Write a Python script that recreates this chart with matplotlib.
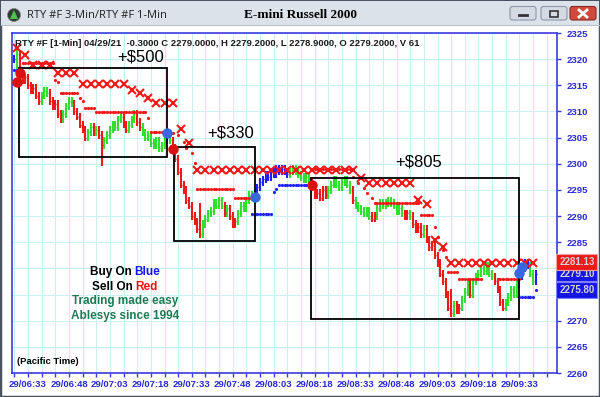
import matplotlib
matplotlib.use("Agg")
import matplotlib.pyplot as plt
import matplotlib.patches as mpatches
from matplotlib.transforms import blended_transform_factory, offset_copy

plt.rcParams["font.family"] = ["Liberation Sans", "DejaVu Sans"]

# ---- 1-min bars (minute 0 = 06:33), closes ----
FIRST_MIN = -5
closes = [
    2320.0, 2321.0, 2317.0, 2316.0, 2316.5, 2315.0, 2314.0, 2314.5, 2313.0, 2312.0,
    2313.0, 2314.0, 2313.5, 2312.0, 2311.0, 2311.5, 2309.5, 2308.5, 2309.5, 2311.0,
    2312.0, 2311.5, 2310.0, 2309.0, 2307.5, 2306.5, 2305.0, 2306.0, 2307.0, 2306.0,
    2306.5, 2305.5, 2303.5, 2304.5, 2305.5, 2306.5, 2307.5, 2307.0, 2308.5, 2309.0,
    2307.5, 2306.5, 2307.5, 2308.5, 2309.5, 2308.0, 2307.0, 2306.0, 2305.0, 2305.5,
    2304.0, 2303.5, 2304.5, 2303.0, 2303.5, 2304.5, 2305.5, 2304.5, 2303.0, 2301.0,
    2298.5, 2296.0, 2295.0, 2293.0, 2292.0, 2290.0, 2289.0, 2287.5, 2286.5, 2288.5,
    2289.5, 2290.5, 2291.0, 2292.5, 2292.0, 2293.0, 2292.0, 2290.5, 2291.5, 2290.0,
    2288.5, 2289.0, 2290.5, 2292.0, 2291.5, 2293.0, 2294.0, 2293.5, 2294.5, 2295.5,
    2296.5, 2297.0, 2298.0, 2297.5, 2298.5, 2298.0, 2299.0, 2298.5, 2299.0, 2298.5,
    2298.0, 2298.5, 2299.0, 2298.5, 2298.0, 2297.5, 2297.0, 2297.5, 2296.5, 2295.5,
    2294.0, 2294.5, 2293.5, 2295.0, 2294.0, 2295.0, 2296.0, 2297.0, 2296.0, 2295.5,
    2296.5, 2297.0, 2296.0, 2295.0, 2293.0, 2292.0, 2291.5, 2291.0, 2290.5, 2291.0,
    2290.0, 2289.5, 2290.0, 2291.5, 2292.5, 2292.0, 2292.5, 2293.0, 2292.5, 2292.0,
    2291.0, 2291.5, 2290.5, 2290.0, 2290.5, 2290.0, 2288.5, 2287.5, 2288.0, 2286.5,
    2287.5, 2285.5, 2284.0, 2284.5, 2282.5, 2281.0, 2279.0, 2277.5, 2275.0, 2272.5,
    2271.5, 2273.0, 2272.0, 2272.5, 2274.0, 2275.5, 2277.0, 2275.0, 2277.5, 2278.5,
    2279.0, 2280.0, 2279.5, 2280.5, 2279.0, 2278.5, 2277.5, 2276.0, 2273.5, 2272.5,
    2273.5, 2274.5, 2276.0, 2275.0, 2277.0, 2278.5, 2280.0, 2281.0, 2280.5, 2279.0,
    2277.5, 2279.0,
]
bar_colors = (
    "bgrrrrrrrr" "gggrrrrrgg" "ggrrrrrggr" "grrggggggg" "rrgggrrggg"
    "ggggggbgrr" "rrrrrrrrrg" "gggggggrgr" "rrggggggbb" "bbbbbbbbbb"
    "bggggggggr" "rrrrrggggg" "ggggrggggg" "grrggggggg" "gggrrgrrrr"
    "grrrrrrrrr" "rgrrgggrgg" "ggggggrrrr" "gggggbbbbg" "gb"
)
spike_min = [-4, -3, 27, 63, 155]
spike_low = [2318.0, 2315.5, 2299.5, 2285.8, 2270.7]
spike_high = [2322.5, 2321.5, 2306.0, 2292.5, 2276.0]

# ---- 3-min stop (red X) ----
xstop_min = [-4, -1, 2, 5, 8, 11, 14, 17, 20, 23, 26, 29, 32, 35, 38, 41, 44, 47, 50, 53,
             56, 59, 62, 65, 68, 71, 74, 77, 80, 83, 86, 89, 92, 95, 98, 101, 104, 107,
             110, 113, 116, 119, 122, 125, 128, 131, 134, 137, 140, 143, 146, 149, 152,
             155, 158, 161, 164, 167, 170, 173, 176, 179, 182, 185]
xstop_val = [2322.1, 2320.8, 2318.9, 2318.9, 2318.9, 2317.4, 2317.4, 2317.4,
             2315.3, 2315.3, 2315.3, 2315.3, 2315.3, 2315.3,
             2314.1, 2313.5, 2312.6, 2311.6, 2311.6, 2311.6, 2306.6, 2304.0,
             2298.8, 2298.8, 2298.8, 2298.8, 2298.8, 2298.8, 2298.8, 2298.8, 2298.8, 2298.8,
             2298.8, 2298.8, 2298.8, 2298.8, 2298.8, 2298.8, 2298.8, 2298.8, 2298.8, 2298.8,
             2297.3, 2296.3, 2296.3, 2296.3, 2296.3, 2296.3, 2296.3,
             2293.1, 2292.3, 2285.4, 2284.0,
             2281.0, 2281.0, 2281.0, 2281.0, 2281.0, 2281.0, 2281.0, 2281.0, 2281.0, 2281.0, 2281.0]

# ---- 1-min trailing stops (dots): start minute, end minute, level ----
red_dot_start = [-2, 10, 11, 12, 19, 20, 21, 25, 44, 45, 53, 55, 57, 58, 60, 61, 62, 76,
                 105, 119, 121, 123, 124, 126, 127, 144, 149, 150, 152, 153, 154, 158, 172]
red_dot_end = [9, 10, 11, 18, 19, 20, 24, 43, 44, 51, 53, 55, 57, 58, 60, 61, 75, 81,
               118, 119, 121, 123, 124, 126, 143, 148, 149, 150, 152, 153, 157, 166, 180]
red_dot_level = [2319.2, 2316.0, 2315.6, 2313.5, 2312.6, 2312.0, 2310.7, 2309.9, 2308.7,
                 2306.0, 2305.9, 2305.5, 2304.2, 2303.0, 2302.0, 2300.1, 2295.2, 2293.5,
                 2299.0, 2297.5, 2296.3, 2295.4, 2294.4, 2293.5, 2292.5, 2290.2, 2288.0,
                 2286.0, 2283.5, 2282.2, 2279.3, 2278.0, 2278.0]
blue_dot_start = [-5, 82, 90, 91, 92, 180, 186]
blue_dot_end = [-4, 89, 90, 91, 102, 185, 186]
blue_dot_level = [2318.0, 2290.4, 2294.6, 2295.2, 2296.0, 2274.5, 2275.9]

# ---- signals ----
sig_min = [-4, -3, 51, 53, 83, 104, 180, 181]
sig_val = [2315.6, 2317.3, 2305.9, 2302.8, 2293.6, 2296.0, 2279.1, 2280.3]
sig_kind = ["sell", "sell", "buy", "sell", "buy", "sell", "buy", "buy"]

# ---- trade boxes ----
box_x0 = [-3.3, 53.5, 103.7]
box_x1 = [50.9, 83.2, 180.0]
box_lo = [2301.3, 2285.2, 2270.3]
box_hi = [2318.3, 2303.2, 2297.3]
profit_text = ["+$500", "+$330", "+$805"]
profit_min = [41.4, 74.4, 143.2]
profit_val = [2320.4, 2305.9, 2300.3]

# ---- axes ----
x_tick_min = [0, 15, 30, 45, 60, 75, 90, 105, 120, 135, 150, 165, 180]
x_tick_lbl = ["29/06:33", "29/06:48", "29/07:03", "29/07:18", "29/07:33", "29/07:48",
              "29/08:03", "29/08:18", "29/08:33", "29/08:48", "29/09:03", "29/09:18",
              "29/09:33"]
y_ticks = [2260, 2265, 2270, 2275, 2280, 2285, 2290, 2295, 2300, 2305, 2310, 2315, 2320, 2325]
y_tick_lbl = ["2260", "2265", "2270", "", "", "2285", "2290", "2295", "2300", "2305",
              "2310", "2315", "2320", "2325"]
last_labels = ["2279.10", "2281.13", "2275.80"]
last_values = [2279.0, 2281.2, 2275.9]
last_colors = ["#1515e8", "#ee1a1a", "#1515e8"]

RED = "#f01818"
GREEN = "#2ee02e"
BLUE = "#2020ff"
AXBLUE = "#3b3be0"
BAR_COLOR = {"r": RED, "g": GREEN, "b": BLUE}

fig = plt.figure(figsize=(6, 3.97), dpi=100)

# window chrome in pixel coordinates
bg = fig.add_axes([0, 0, 1, 1])
bg.set_xlim(0, 600)
bg.set_ylim(397, 0)
bg.axis("off")
bg.add_patch(mpatches.Rectangle((0, 0), 600, 397, fc="white", ec="#4a5461", lw=2.5))
bg.add_patch(mpatches.Rectangle((1, 1), 598, 24, fc="#dbe2ea", ec="none"))
bg.plot([1, 599], [25, 25], color="#b9c3cf", lw=0.8)
bg.add_patch(mpatches.Circle((14, 15), 6.5, fc="#2f3b33", ec="#888", lw=0.5))
bg.add_patch(mpatches.Polygon([[10, 19], [14, 10], [18, 19]], fc="#4fc24f", ec="none"))
bg.text(27, 15.5, "RTY #F 3-Min/RTY #F 1-Min", fontsize=8, va="center",
        family=["Open Sans", "DejaVu Sans"], color="#1e1e1e")
bg.text(301, 15, "E-mini Russell 2000", fontsize=9.5, va="center", ha="center",
        family=["Liberation Serif"], fontweight="bold")
for x0, fc, ec in [(510, "#d3dae3", "#8c97a5"), (541, "#d3dae3", "#8c97a5"), (570, "#cf4a3c", "#8a2a20")]:
    bg.add_patch(mpatches.FancyBboxPatch((x0, 6.5), 26, 13.5, boxstyle="round,pad=0,rounding_size=2.5",
                                         fc=fc, ec=ec, lw=0.8))
bg.plot([519, 527], [14.5, 14.5], color="#333", lw=2)
bg.add_patch(mpatches.Rectangle((550, 10.5), 8, 6, fc="none", ec="#333", lw=1.2))
bg.plot([579, 587], [10, 17], color="white", lw=2)
bg.plot([579, 587], [17, 10], color="white", lw=2)

ax = fig.add_axes([12 / 600, 1 - 373 / 397, 545 / 600, 340 / 397], zorder=2)
ax.set_facecolor("white")
ax.set_xlim(-5.86, 193.77)
ax.set_ylim(2260, 2325)

# bars (open = previous close, OHLC style)
minutes = [FIRST_MIN + i for i in range(len(closes))]
opens = [closes[0]] + closes[:-1]
lows = [min(o, c) - 0.7 for o, c in zip(opens, closes)]
highs = [max(o, c) + 0.7 for o, c in zip(opens, closes)]
for m, lo, hi in zip(spike_min, spike_low, spike_high):
    i = m - FIRST_MIN
    lows[i] = min(lows[i], lo)
    highs[i] = max(highs[i], hi)
cols = [BAR_COLOR[c] for c in bar_colors]
ax.vlines(minutes, lows, highs, colors=cols, lw=1.5, zorder=3)
ax.hlines(opens, [m - 0.35 for m in minutes], minutes, colors=cols, lw=1.0, zorder=3)
ax.hlines(closes, minutes, [m + 0.35 for m in minutes], colors=cols, lw=1.0, zorder=3)

# trailing stops
for s, e, v in zip(red_dot_start, red_dot_end, red_dot_level):
    ms = list(range(s, e + 1))
    ax.plot(ms, [v] * len(ms), "o", ms=2.3, color=RED, mew=0, zorder=4)
for s, e, v in zip(blue_dot_start, blue_dot_end, blue_dot_level):
    ms = list(range(s, e + 1))
    ax.plot(ms, [v] * len(ms), "o", ms=2.3, color=BLUE, mew=0, zorder=4)
ax.plot(xstop_min, xstop_val, "x", ms=5.5, mew=1.5, color=RED, ls="none", zorder=4)

# signal dots
for m, v, k in zip(sig_min, sig_val, sig_kind):
    ax.plot(m, v, "o", ms=7.5, mew=0, color="#dc1010" if k == "sell" else "#3a66e0", zorder=6)

# trade boxes and profits
for x0, x1, lo, hi in zip(box_x0, box_x1, box_lo, box_hi):
    ax.add_patch(mpatches.Rectangle((x0, lo), x1 - x0, hi - lo, fill=False, ec="black", lw=1.3, zorder=5))
for t, m, v in zip(profit_text, profit_min, profit_val):
    ax.text(m, v, t, ha="center", va="center", fontsize=12, zorder=7)

# styling
for sp in ax.spines.values():
    sp.set_color(AXBLUE)
    sp.set_linewidth(1.2)
ax.yaxis.tick_right()
ax.set_yticks(y_ticks)
ax.set_yticklabels(y_tick_lbl)
ax.set_xticks(x_tick_min)
ax.set_xticklabels(x_tick_lbl)
ax.set_xticks(list(range(-5, 194, 5)), minor=True)
ax.tick_params(axis="both", which="both", colors=AXBLUE, length=3, width=1)
ax.tick_params(axis="y", labelsize=6.8, pad=4)
ax.tick_params(axis="x", labelsize=6.8, pad=2)
for lbl in ax.get_xticklabels() + ax.get_yticklabels():
    lbl.set_fontweight("bold")
    lbl.set_color("#2828d8")
ax.grid(True, which="both", axis="x", color="#c9f1f1", lw=0.7)
ax.grid(True, which="major", axis="y", color="#c9f1f1", lw=0.7)
ax.set_axisbelow(True)

ax.text(0.006, 0.982, "RTY #F [1-Min] 04/29/21  -0.3000 C 2279.0000, H 2279.2000, "
        "L 2278.9000, O 2279.2000, V 61", transform=ax.transAxes, fontsize=6.8,
        fontweight="bold", va="top", color="#1a1a1a", zorder=7)
ax.text(0.009, 0.035, "(Pacific Time)", transform=ax.transAxes, fontsize=6.8,
        fontweight="bold", va="center", zorder=7)

# right-hand last value boxes
trans = blended_transform_factory(ax.transAxes, ax.transData)
for lbl, v, c in zip(last_labels, last_values, last_colors):
    ax.text(1.004, v, lbl, transform=trans, ha="left", va="center", fontsize=7,
            fontweight="bold", color="#d4d4d4", clip_on=False, zorder=8,
            bbox=dict(boxstyle="square,pad=0.28", fc=c, ec="#f0a0a0" if c == "#ee1a1a" else "#8080ff", lw=0.8))

# legend block with two-tone lines
renderer = fig.canvas.get_renderer()
legend_lines = [
    [("Buy On ", "black"), ("Blue", "#1414f0")],
    [("Sell On ", "black"), ("Red", "#f01010")],
    [("Trading made easy", "#1d7a52")],
    [("Ablesys since 1994", "#1d7a52")],
]
legend_y = [2279.3, 2276.4, 2273.8, 2270.9]
for parts, y in zip(legend_lines, legend_y):
    texts = [ax.text(35.5, y, s, color=c, fontsize=8.5, fontweight="bold", ha="left",
                     va="center", zorder=7) for s, c in parts]
    widths = [t.get_window_extent(renderer).width for t in texts]
    shift = -sum(widths) / 2
    for t, w in zip(texts, widths):
        t.set_transform(offset_copy(ax.transData, fig=fig, x=shift, y=0, units="dots"))
        shift += w

fig.savefig("out.png", dpi=100)
